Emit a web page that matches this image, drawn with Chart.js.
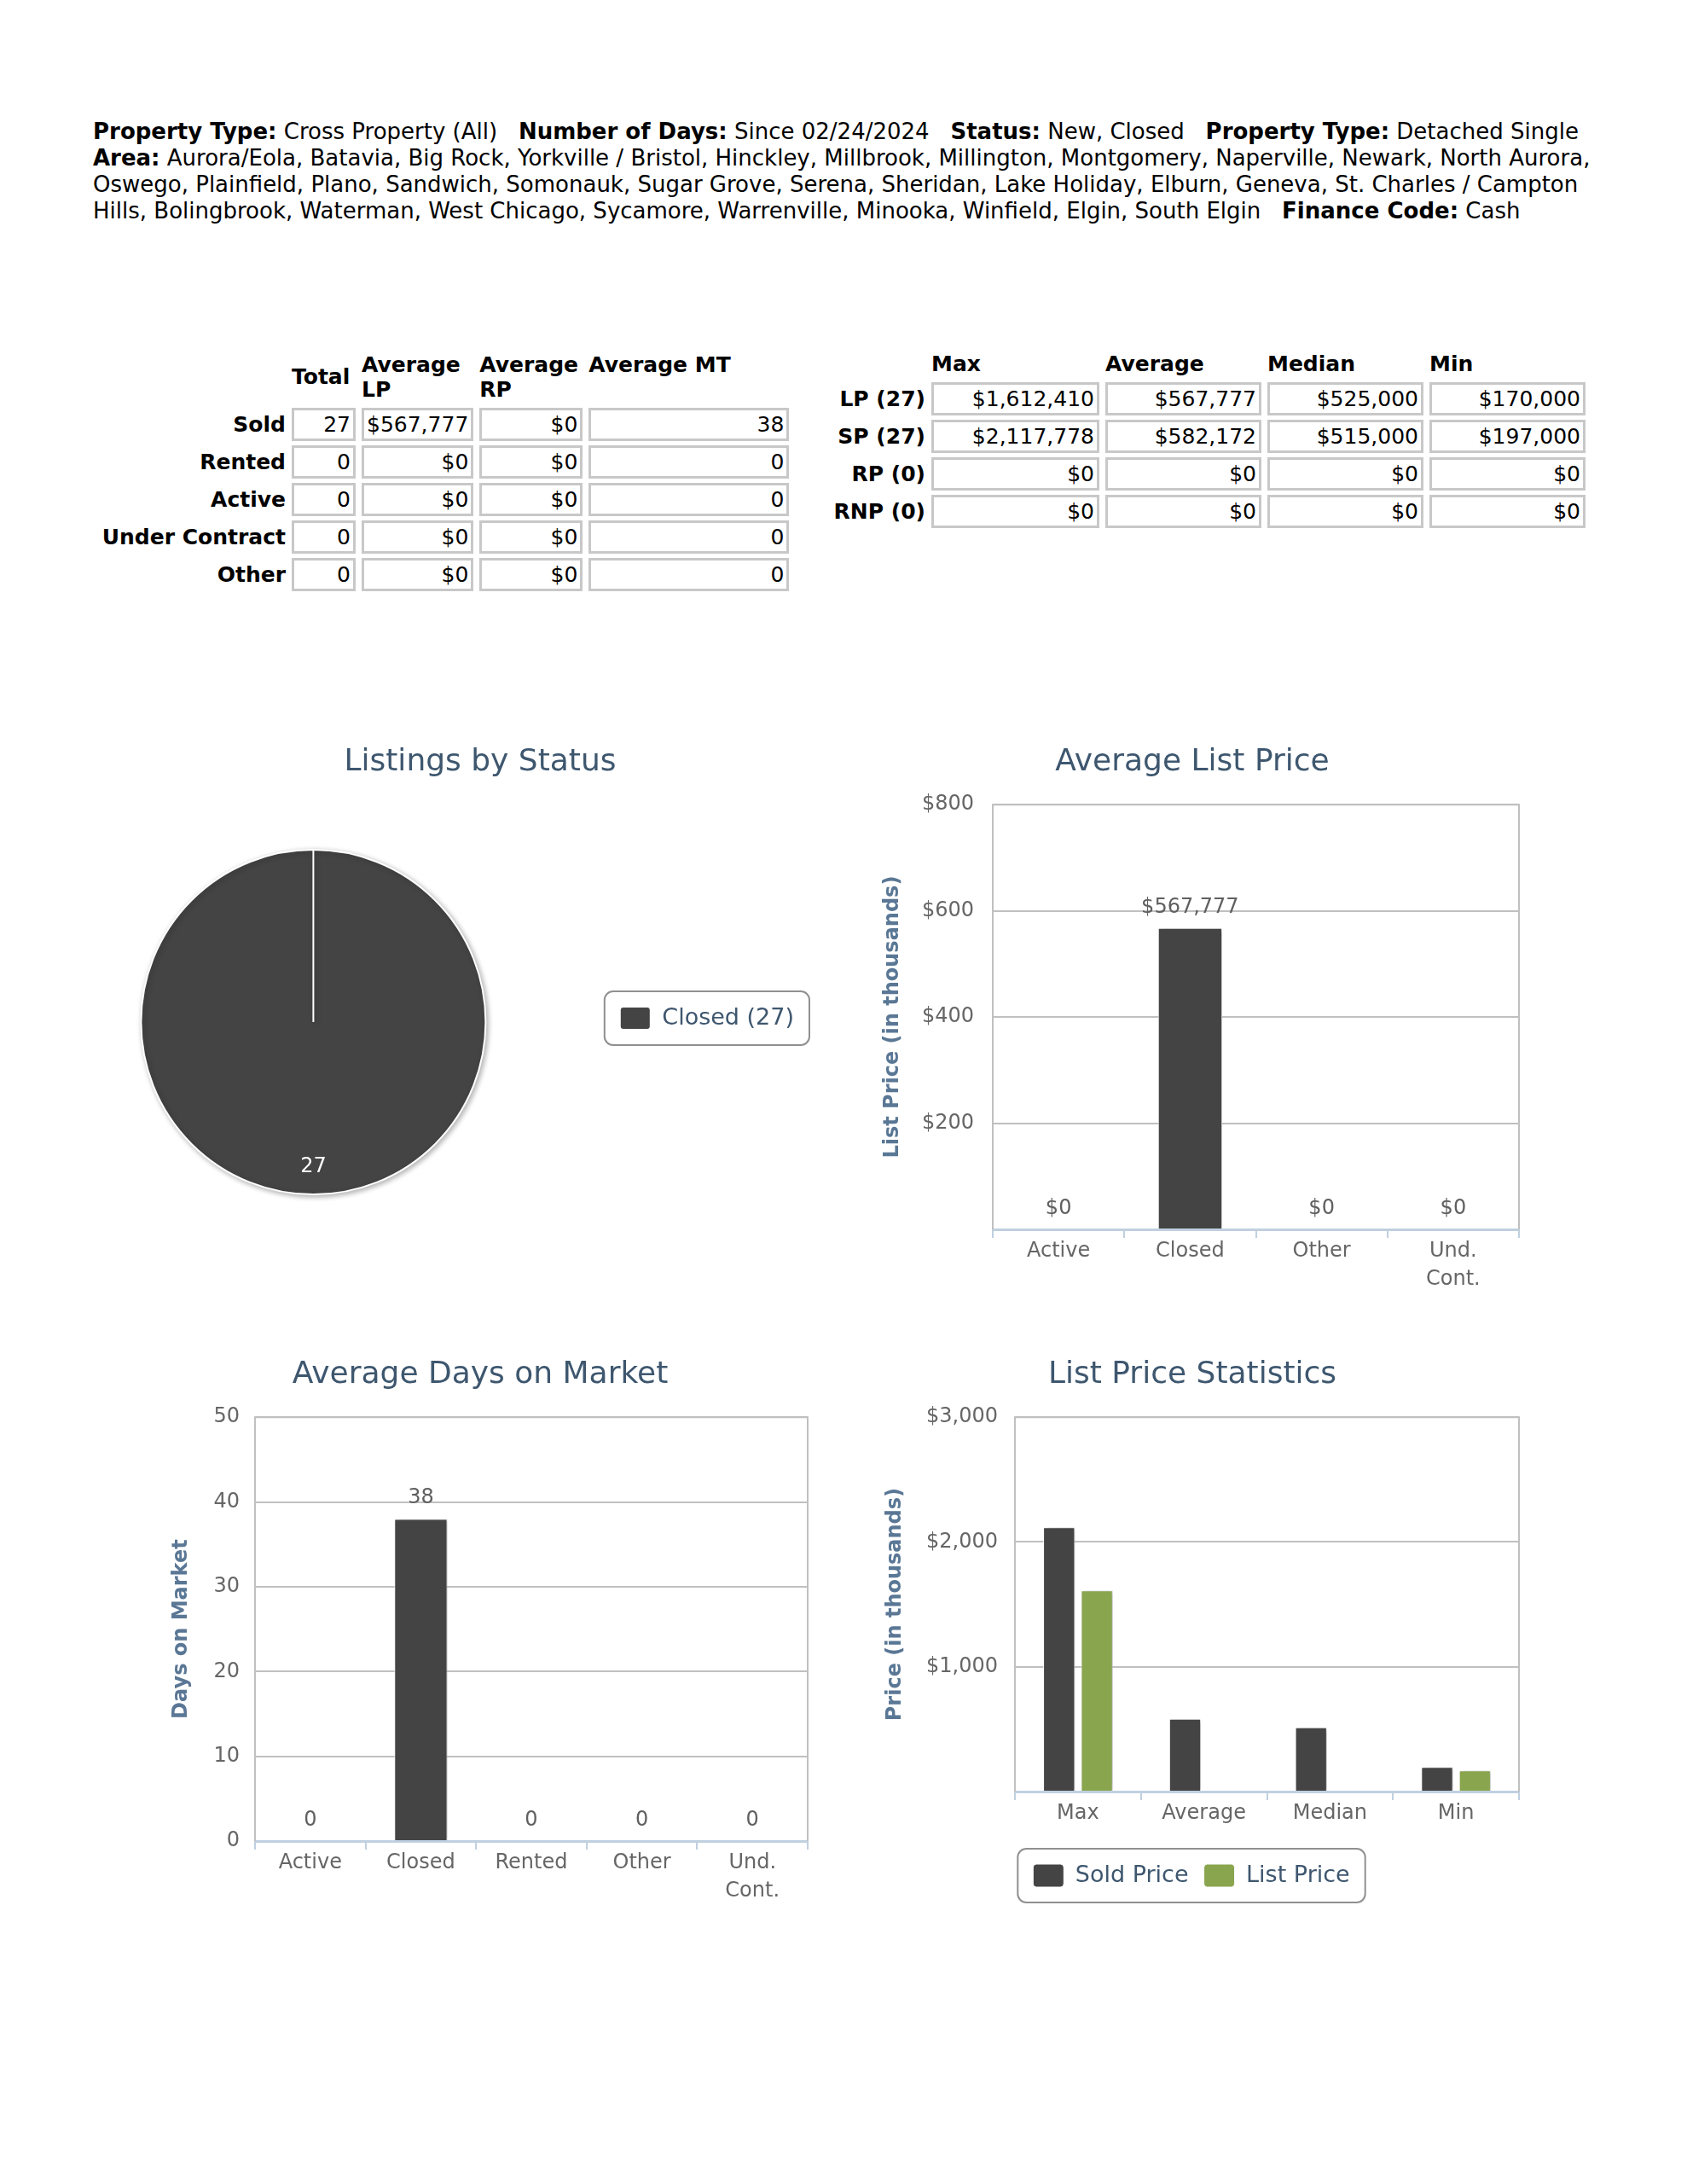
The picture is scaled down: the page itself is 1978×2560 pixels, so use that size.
<!DOCTYPE html>
<html>
<head>
<meta charset="utf-8">
<script src="https://cdn.jsdelivr.net/npm/chart.js@4.4.1/dist/chart.umd.min.js"></script>
<style>
  html, body { margin: 0; padding: 0; background: #fff; }
  body { width: 1978px; height: 2560px; position: relative; font-family: "DejaVu Sans", Verdana, sans-serif; color: #000; }
  #criteria { position: absolute; left: 109px; top: 139px; font-size: 26px; line-height: 31px; white-space: nowrap; }
  table.stats { position: absolute; border-collapse: separate; border-spacing: 7px 5px; font-size: 25px; table-layout: fixed; }
  table.stats th { font-weight: bold; text-align: left; vertical-align: middle; line-height: 29px; padding: 0; }
  table.stats th.rh { text-align: right; }
  table.stats td { border: 3px solid #c8c8c8; text-align: right; height: 39px; box-sizing: border-box; padding: 0 3px; line-height: 31px; }
  canvas { position: absolute; }
</style>
</head>
<body>

<div id="criteria">
<b>Property Type:</b> Cross Property (All)&nbsp;&nbsp; <b>Number of Days:</b> Since 02/24/2024&nbsp;&nbsp; <b>Status:</b> New, Closed&nbsp;&nbsp; <b>Property Type:</b> Detached Single<br>
<b>Area:</b> Aurora/Eola, Batavia, Big Rock, Yorkville / Bristol, Hinckley, Millbrook, Millington, Montgomery, Naperville, Newark, North Aurora,<br>
Oswego, Plainfield, Plano, Sandwich, Somonauk, Sugar Grove, Serena, Sheridan, Lake Holiday, Elburn, Geneva, St. Charles / Campton<br>
Hills, Bolingbrook, Waterman, West Chicago, Sycamore, Warrenville, Minooka, Winfield, Elgin, South Elgin&nbsp;&nbsp; <b>Finance Code:</b> Cash
</div>

<table class="stats" style="left:102px; top:405px;">
  <colgroup><col style="width:226px"><col style="width:75px"><col style="width:131px"><col style="width:121px"><col style="width:235px"></colgroup>
  <tr style="height:63px"><th></th><th>Total</th><th>Average LP</th><th>Average RP</th><th>Average MT<br>&nbsp;</th></tr>
  <tr><th class="rh">Sold</th><td>27</td><td>$567,777</td><td>$0</td><td>38</td></tr>
  <tr><th class="rh">Rented</th><td>0</td><td>$0</td><td>$0</td><td>0</td></tr>
  <tr><th class="rh">Active</th><td>0</td><td>$0</td><td>$0</td><td>0</td></tr>
  <tr><th class="rh">Under Contract</th><td>0</td><td>$0</td><td>$0</td><td>0</td></tr>
  <tr><th class="rh">Other</th><td>0</td><td>$0</td><td>$0</td><td>0</td></tr>
</table>

<table class="stats" style="left:958px; top:405px;">
  <colgroup><col style="width:120px"><col style="width:197px"><col style="width:183px"><col style="width:183px"><col style="width:183px"></colgroup>
  <tr style="height:33px"><th></th><th>Max</th><th>Average</th><th>Median</th><th>Min</th></tr>
  <tr><th class="rh">LP (27)</th><td>$1,612,410</td><td>$567,777</td><td>$525,000</td><td>$170,000</td></tr>
  <tr><th class="rh">SP (27)</th><td>$2,117,778</td><td>$582,172</td><td>$515,000</td><td>$197,000</td></tr>
  <tr><th class="rh">RP (0)</th><td>$0</td><td>$0</td><td>$0</td><td>$0</td></tr>
  <tr><th class="rh">RNP (0)</th><td>$0</td><td>$0</td><td>$0</td><td>$0</td></tr>
</table>

<canvas id="avgListPrice" width="770" height="649" style="left:1013px; top:872px;"></canvas>
<canvas id="avgDays" width="826" height="648" style="left:150px; top:1590px;"></canvas>
<canvas id="priceStats" width="770" height="652" style="left:1013px; top:1590px;"></canvas>
<canvas id="statusPie" width="1090" height="581" style="left:18px; top:872px;"></canvas>

<script>
// chart values (prices in thousands)
const statusNames = ['Closed'];
const statusCounts = [27];

const listPriceCategories = ['Active', 'Closed', 'Other', ['Und.', 'Cont.']];
const avgListPrice = [0, 567.777, 0, 0];

const domCategories = ['Active', 'Closed', 'Rented', 'Other', ['Und.', 'Cont.']];
const avgDaysOnMarket = [0, 38, 0, 0, 0];

const statCategories = ['Max', 'Average', 'Median', 'Min'];
const soldPriceStats = [2117.778, 582.172, 515, 197];
const listPriceStats = [1612.41, null, null, 170];

const FONT = '"DejaVu Sans", Verdana, sans-serif';
const DARK = '#444444';
const GREEN = '#89A54E';
const TITLE_COLOR = '#3E576F';
const AXIS_TITLE_COLOR = '#5a7795';

Chart.defaults.font.family = FONT;
Chart.defaults.color = '#666';
Chart.defaults.animation = false;

const money = v => '$' + Math.round(v).toLocaleString('en-US');

// title centred over the whole canvas, legend nudged down if asked
const centerTitle = {
    id: 'centerTitle',
    afterLayout(chart, args, opts) {
        const t = chart.titleBlock;
        if (t) { t.left = 0; t.right = chart.width; t.width = chart.width; }
        if (opts.legendShift && chart.legend) {
            chart.legend.top += opts.legendShift;
            chart.legend.bottom += opts.legendShift;
        }
    }
};

// grey frame round the plot area, bottom edge is the x axis line
const plotBorder = {
    id: 'plotBorder',
    beforeDatasetsDraw(chart) {
        const { ctx, chartArea: a } = chart;
        ctx.save();
        ctx.strokeStyle = '#C0C0C0';
        ctx.lineWidth = 2;
        ctx.beginPath();
        ctx.moveTo(a.left, a.bottom);
        ctx.lineTo(a.left, a.top);
        ctx.lineTo(a.right, a.top);
        ctx.lineTo(a.right, a.bottom);
        ctx.stroke();
        ctx.restore();
    }
};

const shadow = {
    id: 'shadow',
    beforeDatasetsDraw(chart, args, opts) {
        const ctx = chart.ctx;
        ctx.save();
        ctx.shadowColor = opts.color || 'rgba(0,0,0,0.3)';
        ctx.shadowBlur = opts.blur || 4;
        ctx.shadowOffsetX = opts.x || 2;
        ctx.shadowOffsetY = opts.y || 1;
    },
    afterDatasetsDraw(chart) {
        chart.ctx.restore();
    }
};

const valueLabels = {
    id: 'valueLabels',
    afterDatasetsDraw(chart, args, opts) {
        if (!opts.formatter) return;
        const ctx = chart.ctx;
        ctx.save();
        ctx.font = '24px ' + FONT;
        ctx.fillStyle = '#606060';
        ctx.textAlign = 'center';
        ctx.textBaseline = 'alphabetic';
        chart.data.datasets.forEach((ds, di) => {
            chart.getDatasetMeta(di).data.forEach((bar, i) => {
                if (ds.data[i] == null) return;
                ctx.fillText(opts.formatter(ds.data[i]), bar.x, bar.y - 18);
            });
        });
        ctx.restore();
    }
};

const sliceLabels = {
    id: 'sliceLabels',
    afterDatasetsDraw(chart) {
        const ctx = chart.ctx;
        const meta = chart.getDatasetMeta(0);
        ctx.save();
        ctx.font = '24px ' + FONT;
        ctx.fillStyle = '#ffffff';
        ctx.textAlign = 'center';
        ctx.textBaseline = 'middle';
        meta.data.forEach((arc, i) => {
            const p = arc.getProps(['x', 'y', 'startAngle', 'endAngle', 'outerRadius']);
            const mid = (p.startAngle + p.endAngle) / 2;
            const r = p.outerRadius * 0.84;
            ctx.fillText(String(chart.data.datasets[0].data[i]), p.x + Math.cos(mid) * r, p.y + Math.sin(mid) * r);
        });
        ctx.restore();
    }
};

const legendFrame = {
    id: 'legendFrame',
    afterDraw(chart, args, opts) {
        const boxes = chart.legend && chart.legend.legendHitBoxes;
        if (!boxes || !boxes.length) return;
        const l = Math.min(...boxes.map(b => b.left)) - opts.padX;
        const r = Math.max(...boxes.map(b => b.left + b.width)) + opts.padX;
        const t = Math.min(...boxes.map(b => b.top)) - opts.padY;
        const b = Math.max(...boxes.map(b => b.top + b.height)) + opts.padY;
        const ctx = chart.ctx;
        ctx.save();
        ctx.strokeStyle = '#909090';
        ctx.lineWidth = 2;
        ctx.beginPath();
        ctx.roundRect(l, t, r - l, b - t, 10);
        ctx.stroke();
        ctx.restore();
    }
};

function chartTitle(text) {
    return {
        display: true, text: text, color: TITLE_COLOR,
        font: { size: 36, weight: 'normal' },
        padding: { top: 0, bottom: 28 }
    };
}

function xAxis(height) {
    return {
        offset: true,
        afterFit: s => { s.height = height; },
        grid: { offset: true, drawOnChartArea: false, drawTicks: true, tickLength: 10, color: '#C0D0E0', lineWidth: 2 },
        border: { display: true, color: '#C0D0E0', width: 3 },
        ticks: { font: { size: 24, lineHeight: 1.35 }, color: '#666', padding: 0, maxRotation: 0, autoSkip: false }
    };
}

function yAxis(o) {
    return {
        min: 0, max: o.max,
        afterFit: s => { s.width = o.width; },
        grid: { color: '#C0C0C0', lineWidth: 2, drawTicks: false },
        border: { display: false },
        ticks: { stepSize: o.step, font: { size: 24 }, color: '#666', padding: o.tickPad, callback: o.label },
        title: { display: true, text: o.title, color: AXIS_TITLE_COLOR, font: { size: 24, weight: 'bold' }, padding: { top: o.titlePad, bottom: 0 } }
    };
}

// Listings by Status
new Chart(document.getElementById('statusPie'), {
    type: 'pie',
    data: {
        labels: statusNames.map((s, i) => s + ' (' + statusCounts[i] + ')'),
        datasets: [{ data: statusCounts, backgroundColor: DARK, borderColor: '#ffffff', borderWidth: 2 }]
    },
    options: {
        responsive: false,
        radius: 202,
        layout: { padding: { right: 167 } },
        plugins: {
            title: chartTitle('Listings by Status'),
            legend: {
                position: 'right',
                labels: { boxWidth: 36, boxHeight: 27, useBorderRadius: true, borderRadius: 4, font: { size: 27 }, color: TITLE_COLOR, padding: 10 }
            },
            tooltip: { enabled: false },
            centerTitle: { legendShift: 31 },
            shadow: { color: 'rgba(0,0,0,0.3)', blur: 6, x: 2, y: 2 },
            legendFrame: { padX: 18, padY: 18 }
        }
    },
    plugins: [centerTitle, shadow, sliceLabels, legendFrame]
});

// Average List Price
new Chart(document.getElementById('avgListPrice'), {
    type: 'bar',
    data: {
        labels: listPriceCategories,
        datasets: [{ label: 'Average List Price', data: avgListPrice, backgroundColor: DARK, borderColor: '#ffffff', borderWidth: 1, categoryPercentage: 0.8, barPercentage: 0.61 }]
    },
    options: {
        responsive: false,
        layout: { padding: { right: 2 } },
        scales: {
            x: xAxis(80),
            y: yAxis({ max: 800, step: 200, width: 151, tickPad: 22, titlePad: 19, title: 'List Price (in thousands)', label: v => v === 0 ? '' : money(v) })
        },
        plugins: {
            title: chartTitle('Average List Price'),
            legend: { display: false },
            tooltip: { enabled: false },
            shadow: { color: 'rgba(0,0,0,0.28)', blur: 5, x: 3, y: 1 },
            valueLabels: { formatter: v => money(v * 1000) }
        }
    },
    plugins: [centerTitle, plotBorder, shadow, valueLabels]
});

// Average Days on Market
new Chart(document.getElementById('avgDays'), {
    type: 'bar',
    data: {
        labels: domCategories,
        datasets: [{ label: 'Average Days on Market', data: avgDaysOnMarket, backgroundColor: DARK, borderColor: '#ffffff', borderWidth: 1, categoryPercentage: 0.8, barPercentage: 0.6 }]
    },
    options: {
        responsive: false,
        layout: { padding: { right: 29 } },
        scales: {
            x: xAxis(80),
            y: yAxis({ max: 50, step: 10, width: 149, tickPad: 18, titlePad: 48, title: 'Days on Market', label: v => String(v) })
        },
        plugins: {
            title: chartTitle('Average Days on Market'),
            legend: { display: false },
            tooltip: { enabled: false },
            shadow: { color: 'rgba(0,0,0,0.28)', blur: 5, x: 3, y: 1 },
            valueLabels: { formatter: v => String(v) }
        }
    },
    plugins: [centerTitle, plotBorder, shadow, valueLabels]
});

// List Price Statistics
new Chart(document.getElementById('priceStats'), {
    type: 'bar',
    data: {
        labels: statCategories,
        datasets: [
            { label: 'Sold Price', data: soldPriceStats, backgroundColor: DARK, borderColor: '#ffffff', borderWidth: 1, categoryPercentage: 0.6, barPercentage: 0.84 },
            { label: 'List Price', data: listPriceStats, backgroundColor: GREEN, borderColor: '#ffffff', borderWidth: 1, categoryPercentage: 0.6, barPercentage: 0.84 }
        ]
    },
    options: {
        responsive: false,
        layout: { padding: { right: 2, bottom: 20 } },
        scales: {
            x: xAxis(67),
            y: yAxis({ max: 3000, step: 1000, width: 177, tickPad: 20, titlePad: 22, title: 'Price (in thousands)', label: v => v === 0 ? '' : money(v) })
        },
        plugins: {
            title: chartTitle('List Price Statistics'),
            legend: {
                position: 'bottom',
                labels: { boxWidth: 36, boxHeight: 27, useBorderRadius: true, borderRadius: 4, font: { size: 27 }, color: TITLE_COLOR, padding: 18 }
            },
            tooltip: { enabled: false },
            shadow: { color: 'rgba(0,0,0,0.28)', blur: 5, x: 3, y: 1 },
            legendFrame: { padX: 18, padY: 18 }
        }
    },
    plugins: [centerTitle, plotBorder, shadow, legendFrame]
});
</script>
</body>
</html>
